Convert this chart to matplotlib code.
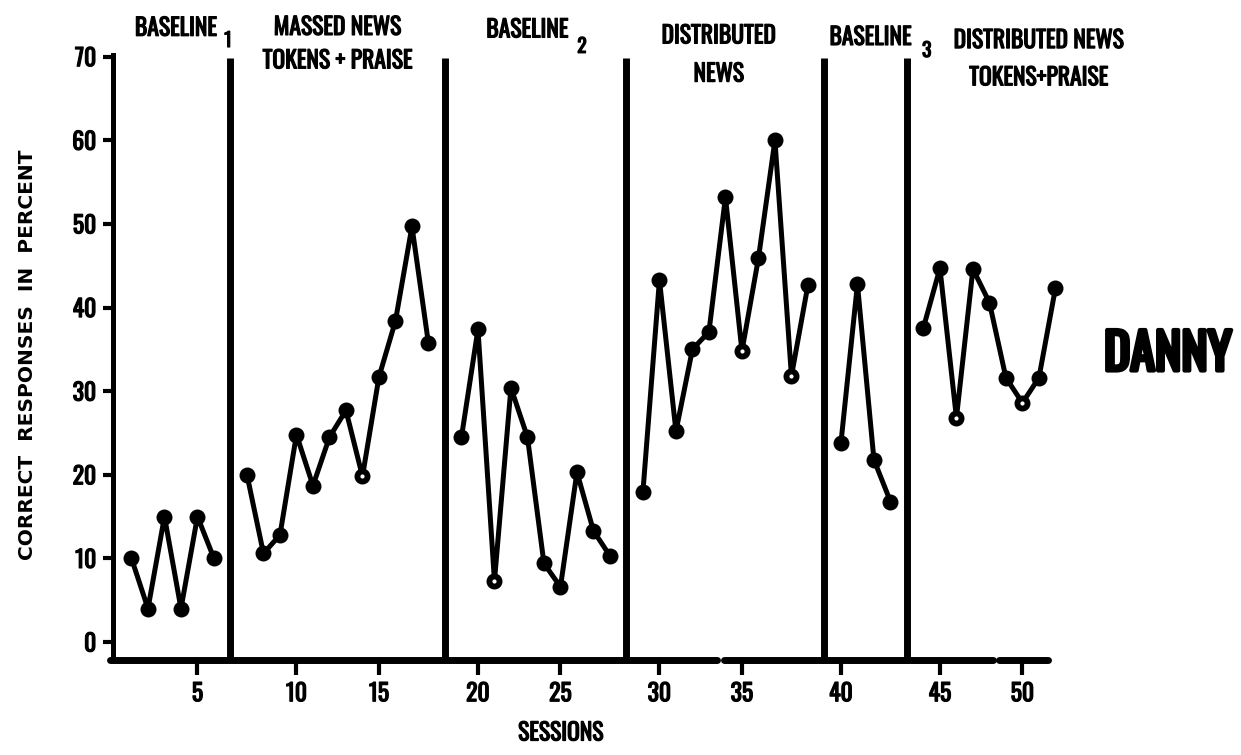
import matplotlib
matplotlib.use("Agg")
import matplotlib.pyplot as plt
import matplotlib.patheffects as pe
import numpy as np

# -----------------------------
# Datos
# -----------------------------
phase_starts = [1, 7, 19, 29, 40, 44]

baseline1 = [10, 4, 15, 4, 15, 10]
massed_news = [20, 10.6, 12.8, 24.8, 18.7, 24.5, 27.7, 19.8, 31.7, 38.4, 49.7, 35.7]
baseline2 = [24.5, 37.4, 7.3, 30.4, 24.5, 9.4, 6.6, 20.3, 13.3, 10.3]
distributed_news = [18.0, 43.3, 25.2, 35.0, 37.1, 53.2, 34.8, 45.9, 60.0, 31.8, 42.7]
baseline3 = [23.8, 42.8, 21.8, 16.8]
distributed_tokens = [37.6, 44.7, 26.8, 44.6, 40.6, 31.6, 28.6, 31.6, 42.3]

open_sessions = [14, 21, 35, 38, 46, 50]

x_ticks = [5, 10, 15, 20, 25, 30, 35, 40, 45, 50]
y_ticks = [0, 10, 20, 30, 40, 50, 60, 70]

phases = [baseline1, massed_news, baseline2, distributed_news, baseline3, distributed_tokens]

FONT = ["Oswald", "Roboto Condensed", "DejaVu Sans"]
plt.rcParams["font.family"] = FONT

BOLD = [pe.withStroke(linewidth=0.9, foreground="black")]

# -----------------------------
# Posición en el eje: una sesión en blanco entre fases
# -----------------------------
def pos(session):
    gap = sum(1 for s in phase_starts[1:] if session >= s)
    return session + gap

# -----------------------------
# Figura
# -----------------------------
fig = plt.figure(figsize=(12.41, 7.55), dpi=100)
ax = fig.add_axes([113 / 1241, 95 / 755, (1048 - 113) / 1241, (700 - 95) / 755])
ax.set_xlim(-0.12, 56.55)
ax.set_ylim(-2.15, 70.2)

for i, vals in enumerate(phases):
    sessions = np.arange(phase_starts[i], phase_starts[i] + len(vals))
    xs = [pos(s) for s in sessions]
    ax.plot(xs, vals, color="black", lw=3.6, zorder=3, clip_on=False)
    for s, x, v in zip(sessions, xs, vals):
        if s in open_sessions:
            ax.plot(x, v, "o", ms=7.3, mfc="white", mec="black", mew=4.2,
                    zorder=4, clip_on=False)
        else:
            ax.plot(x, v, "o", ms=11.5, mfc="black", mec="black", mew=0,
                    zorder=4, clip_on=False)

# líneas de cambio de fase
for s in phase_starts[1:]:
    xb = pos(s) - 1
    ax.vlines(xb, -2.15, 69.9, color="black", lw=5, zorder=2, clip_on=False)

# ejes
for side in ["top", "right", "bottom"]:
    ax.spines[side].set_visible(False)
ax.spines["left"].set_linewidth(3.6)
y0 = -2.15
for a, b in [(-0.3, 36.5), (36.9, 53.2), (53.6, 56.55)]:
    ax.plot([a, b], [y0, y0], color="black", lw=5, solid_capstyle="round",
            clip_on=False, zorder=5)

ax.set_xticks([pos(t) for t in x_ticks])
ax.set_xticklabels([str(t) for t in x_ticks])
ax.set_yticks(y_ticks)
ax.set_yticklabels([str(t) for t in y_ticks])
ax.tick_params(axis="x", direction="out", length=11, width=3, pad=5,
               labelsize=17)
ax.tick_params(axis="y", direction="out", length=7, width=3, pad=5,
               labelsize=17)
for lab in ax.get_xticklabels() + ax.get_yticklabels():
    lab.set_path_effects(BOLD)

# títulos de fases
hdr = dict(ha="center", va="center", fontsize=17, color="black",
           clip_on=False, path_effects=BOLD)
sub = dict(ha="center", va="center", fontsize=14, color="black",
           clip_on=False, path_effects=BOLD)
ax.text(3.7, 73.4, "BASELINE", **hdr)
ax.text(6.85, 72.0, "1", **sub)
ax.text(13.5, 71.5, "MASSED NEWS\nTOKENS + PRAISE", linespacing=1.55, **hdr)
ax.text(25.0, 73.2, "BASELINE", **hdr)
ax.text(28.3, 71.3, "2", **sub)
ax.text(36.6, 70.2, "DISTRIBUTED\nNEWS", linespacing=1.8, **hdr)
ax.text(45.8, 72.3, "BASELINE", **hdr)
ax.text(49.2, 70.8, "3", **sub)
ax.text(56.0, 69.7, "DISTRIBUTED NEWS\nTOKENS+PRAISE", linespacing=1.75, **hdr)

fig.text(1168 / 1241, 1 - 355 / 755, "DANNY", ha="center", va="center",
         fontsize=36, path_effects=[pe.withStroke(linewidth=3, foreground="black")])
fig.text(561 / 1241, 1 - 733 / 755, "SESSIONS", ha="center", va="center",
         fontsize=17, path_effects=BOLD)
fig.text(28 / 1241, 1 - 355 / 755, "CORRECT  RESPONSES  IN  PERCENT",
         ha="center", va="center", rotation=90, fontsize=14.5,
         family=["DejaVu Sans"], fontweight="bold")

fig.savefig("out.png", dpi=100)
